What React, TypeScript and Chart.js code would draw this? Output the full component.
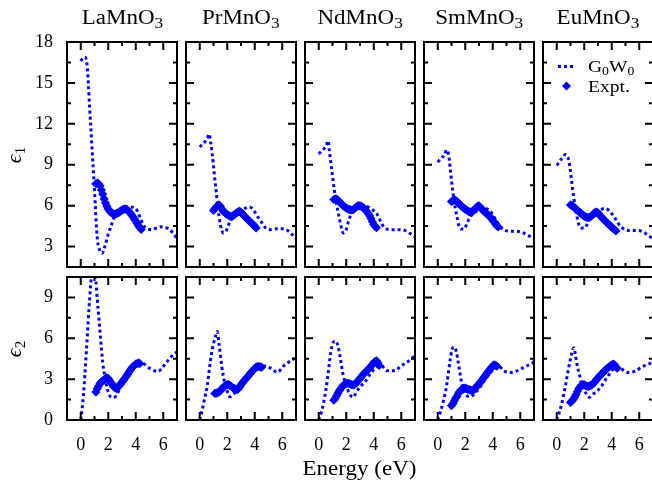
import React, { useEffect, useRef } from 'react';
import { Chart, registerables } from 'chart.js';
Chart.register(...registerables);

// ---------- labels ----------
const COMPOUNDS = ['La', 'Pr', 'Nd', 'Sm', 'Eu'];
const ROW_SUBSCRIPTS = ['1', '2'];
const X_LABELS = [0, 2, 4, 6];
const SERIES_NAMES = ['G0W0', 'Expt.'];

// ---------- experiment energy grid (eV) ----------
const EXPT_E = [1.0, 1.1, 1.2, 1.3, 1.4, 1.5, 1.6, 1.7, 1.8, 1.9,
  2.0, 2.1, 2.2, 2.3, 2.4, 2.5, 2.6, 2.7, 2.8, 2.9,
  3.0, 3.1, 3.2, 3.3, 3.4, 3.5, 3.6, 3.7, 3.8, 3.9,
  4.0, 4.1, 4.2, 4.3, 4.4, 4.5];

// ---------- epsilon_1 experiment ----------
const LA_E1_EXPT = [null, 7.6, 7.65, 7.6, 7.45, 7.15, 6.85, 6.5, 6.2, 5.95,
  5.75, 5.6, 5.5, 5.43, 5.38, 5.38, 5.42, 5.47, 5.52, 5.6,
  5.67, 5.72, 5.75, 5.74, 5.68, 5.58, 5.45, 5.32, 5.18, 5.02,
  4.87, 4.7, 4.52, 4.38, 4.25, null];
const PR_E1_EXPT = [5.65, 5.78, 5.9, 6.0, 6.05, 5.95, 5.75, 5.6, 5.5, 5.42,
  5.35, 5.28, 5.22, 5.2, 5.25, 5.32, 5.4, 5.48, 5.55, 5.58,
  5.52, 5.4, 5.3, 5.18, 5.07, 4.97, 4.88, 4.78, 4.68, 4.58,
  4.48, 4.36, null, null, null, null];
const ND_E1_EXPT = [null, 6.45, 6.5, 6.48, 6.4, 6.3, 6.18, 6.08, 5.98, 5.9,
  5.82, 5.77, 5.73, 5.7, 5.68, 5.7, 5.78, 5.88, 5.97, 6.0,
  5.98, 5.94, 5.9, 5.8, 5.68, 5.55, 5.42, 5.25, 5.05, 4.82,
  4.62, 4.48, 4.38, null, null, null];
const SM_E1_EXPT = [6.3, 6.36, 6.4, 6.38, 6.3, 6.2, 6.08, 5.98, 5.9, 5.82,
  5.75, 5.68, 5.6, 5.54, 5.52, 5.56, 5.64, 5.75, 5.86, 5.96,
  5.98, 5.88, 5.75, 5.65, 5.55, 5.45, 5.38, 5.3, 5.18, 5.05,
  4.92, 4.8, 4.66, 4.53, 4.44, null];
const EU_E1_EXPT = [6.05, 6.02, 5.95, 5.85, 5.75, 5.65, 5.57, 5.5, 5.4, 5.3,
  5.22, 5.17, 5.14, 5.13, 5.15, 5.22, 5.32, 5.42, 5.5, 5.53,
  5.48, 5.35, 5.22, 5.1, 5.0, 4.9, 4.8, 4.7, 4.6, 4.5,
  4.42, 4.33, 4.23, 4.15, null, null];

// ---------- epsilon_2 experiment ----------
const LA_E2_EXPT = [null, 2.05, 2.3, 2.5, 2.68, 2.8, 2.88, 2.95, 3.05, 3.1,
  3.05, 2.9, 2.75, 2.6, 2.45, 2.35, 2.32, 2.4, 2.52, 2.65,
  2.78, 2.92, 3.05, 3.2, 3.35, 3.5, 3.65, 3.8, 3.92, 4.02,
  4.1, 4.15, 4.18, 4.15, null, null];
const PR_E2_EXPT = [null, 1.95, 1.98, 2.0, 2.05, 2.15, 2.27, 2.38, 2.48, 2.55,
  2.6, 2.6, 2.52, 2.45, 2.38, 2.32, 2.25, 2.22, 2.28, 2.42,
  2.58, 2.72, 2.85, 2.97, 3.08, 3.2, 3.32, 3.45, 3.56, 3.68,
  3.8, 3.88, 3.93, 3.92, 3.9, 3.88];
const ND_E2_EXPT = [null, 1.45, 1.6, 1.78, 1.98, 2.15, 2.3, 2.45, 2.55, 2.62,
  2.68, 2.7, 2.68, 2.64, 2.6, 2.58, 2.6, 2.68, 2.8, 2.93,
  3.05, 3.18, 3.3, 3.42, 3.53, 3.63, 3.72, 3.82, 3.95, 4.08,
  4.2, 4.3, 4.35, 4.2, 4.0, null];
const SM_E2_EXPT = [1.05, 1.2, 1.4, 1.6, 1.75, 1.95, 2.1, 2.2, 2.3, 2.35,
  2.35, 2.3, 2.25, 2.22, 2.2, 2.18, 2.2, 2.3, 2.42, 2.55,
  2.65, 2.78, 2.92, 3.05, 3.18, 3.32, 3.46, 3.6, 3.72, 3.85,
  3.97, 4.05, 4.02, 3.95, null, null];
const EU_E2_EXPT = [1.3, 1.38, 1.5, 1.68, 1.88, 2.1, 2.3, 2.45, 2.55, 2.6,
  2.58, 2.52, 2.48, 2.47, 2.5, 2.55, 2.62, 2.72, 2.85, 2.98,
  3.1, 3.2, 3.3, 3.42, 3.53, 3.63, 3.73, 3.82, 3.9, 3.98,
  4.05, 4.1, 4.05, 3.9, 3.8, null];

// ---------- G0W0 epsilon_1 ----------
const LA_E1_GW_E = [0, 0.15, 0.3, 0.45, 0.55, 0.65, 0.75, 0.85, 0.95, 1.05, 1.15, 1.25, 1.4, 1.55, 1.75, 2.0, 2.2, 2.5, 2.8, 3.2, 3.6, 4.0, 4.2, 4.4, 4.6, 4.8, 5.2, 5.5, 5.8, 6.1, 6.4, 6.7, 7.0];
const LA_E1_GW = [16.6, 16.8, 16.9, 16.4, 15.0, 13.1, 11.4, 9.7, 8.0, 6.2, 4.3, 3.2, 2.7, 2.5, 3.0, 3.9, 4.5, 5.3, 5.7, 5.9, 5.9, 5.8, 5.4, 4.9, 4.5, 4.3, 4.25, 4.35, 4.45, 4.4, 4.3, 4.0, 3.6];
const PR_E1_GW_E = [0, 0.2, 0.4, 0.55, 0.68, 0.8, 0.9, 1.0, 1.1, 1.2, 1.3, 1.4, 1.5, 1.6, 1.7, 1.9, 2.1, 2.35, 2.6, 3.0, 3.3, 3.6, 3.9, 4.2, 4.45, 4.8, 5.1, 5.6, 6.1, 6.5, 6.8, 7.0];
const PR_E1_GW = [10.3, 10.5, 10.7, 10.9, 11.25, 10.6, 9.85, 8.9, 7.9, 7.0, 5.95, 5.2, 4.6, 4.2, 4.0, 4.1, 4.6, 5.1, 5.4, 5.6, 5.8, 5.9, 5.7, 5.2, 4.85, 4.36, 4.24, 4.3, 4.3, 4.1, 3.8, 3.6];
const ND_E1_GW_E = [0, 0.2, 0.36, 0.55, 0.68, 0.77, 0.89, 1.01, 1.13, 1.25, 1.37, 1.49, 1.61, 1.8, 2.0, 2.16, 2.4, 2.8, 3.2, 3.6, 3.9, 4.2, 4.44, 4.8, 5.28, 5.76, 6.24, 6.67, 7.0];
const ND_E1_GW = [9.8, 10.0, 10.15, 10.4, 10.76, 10.04, 9.07, 8.1, 7.14, 6.4, 5.7, 5.1, 4.53, 4.0, 4.24, 4.84, 5.45, 5.85, 6.0, 5.9, 5.7, 5.45, 4.96, 4.36, 4.24, 4.24, 4.19, 3.94, 3.7];
const SM_E1_GW_E = [0, 0.31, 0.5, 0.63, 0.8, 0.92, 1.04, 1.16, 1.28, 1.4, 1.52, 1.69, 1.93, 2.13, 2.37, 2.7, 3.0, 3.3, 3.6, 3.9, 4.2, 4.5, 4.78, 5.27, 5.75, 6.23, 6.67, 7.0];
const SM_E1_GW = [9.19, 9.55, 9.7, 10.09, 9.67, 8.59, 7.5, 6.53, 5.8, 5.2, 4.6, 4.29, 4.29, 4.72, 5.2, 5.5, 5.75, 5.8, 5.75, 5.5, 5.0, 4.5, 4.24, 4.12, 4.12, 4.0, 3.77, 3.6];
const EU_E1_GW_E = [0, 0.29, 0.45, 0.61, 0.85, 0.97, 1.09, 1.21, 1.33, 1.45, 1.57, 1.77, 2.01, 2.25, 2.42, 2.8, 3.2, 3.5, 3.87, 4.23, 4.59, 4.96, 5.43, 5.92, 6.33, 6.65, 7.0];
const EU_E1_GW = [8.95, 9.36, 9.5, 9.75, 9.43, 8.71, 7.74, 6.78, 6.0, 5.33, 4.72, 4.36, 4.36, 4.72, 5.2, 5.5, 5.7, 5.81, 5.57, 5.09, 4.53, 4.24, 4.17, 4.17, 4.05, 3.8, 3.6];

// ---------- G0W0 epsilon_2 ----------
const LA_E2_GW_E = [0, 0.1, 0.2, 0.3, 0.4, 0.5, 0.6, 0.7, 0.8, 0.9, 1.0, 1.1, 1.2, 1.3, 1.4, 1.5, 1.6, 1.75, 1.9, 2.1, 2.3, 2.5, 2.7, 2.9, 3.2, 3.5, 3.8, 4.1, 4.4, 4.7, 5.0, 5.3, 5.6, 5.9, 6.2, 6.5, 6.8, 7.0];
const LA_E2_GW = [0.0, 0.8, 1.9, 3.3, 4.9, 6.55, 8.2, 9.6, 10.8, 11.2, 11.0, 10.2, 8.9, 7.7, 6.5, 5.3, 4.2, 3.2, 2.4, 1.8, 1.65, 1.7, 2.0, 2.5, 2.95, 3.4, 3.85, 4.15, 4.2, 4.05, 3.8, 3.65, 3.55, 3.8, 4.2, 4.55, 4.85, 5.0];
const PR_E2_GW_E = [0, 0.15, 0.35, 0.55, 0.7, 0.85, 1.0, 1.15, 1.27, 1.4, 1.5, 1.6, 1.7, 1.85, 2.0, 2.2, 2.45, 2.8, 3.2, 3.6, 4.0, 4.4, 4.7, 5.2, 5.65, 6.1, 6.6, 7.0];
const PR_E2_GW = [0.0, 0.6, 1.55, 2.55, 3.75, 4.85, 5.6, 6.15, 6.5, 5.6, 4.8, 3.95, 3.3, 2.55, 2.1, 1.7, 1.9, 2.4, 3.0, 3.4, 3.74, 3.95, 3.97, 3.78, 3.5, 3.97, 4.34, 4.6];
const ND_E2_GW_E = [0, 0.19, 0.36, 0.51, 0.63, 0.75, 0.87, 1.04, 1.23, 1.4, 1.52, 1.64, 1.76, 2.0, 2.24, 2.49, 2.73, 2.97, 3.33, 3.82, 4.18, 4.54, 5.0, 5.5, 5.98, 6.46, 6.82, 7.0];
const ND_E2_GW = [0.0, 0.58, 1.3, 2.16, 3.0, 3.98, 4.95, 5.67, 5.8, 5.43, 4.83, 4.1, 3.37, 2.52, 1.92, 1.67, 2.03, 2.4, 2.76, 3.49, 3.85, 3.98, 3.61, 3.61, 3.97, 4.27, 4.58, 4.7];
const SM_E2_GW_E = [0, 0.19, 0.36, 0.53, 0.68, 0.79, 0.91, 1.04, 1.2, 1.37, 1.49, 1.61, 1.73, 1.87, 2.1, 2.35, 2.6, 2.9, 3.2, 3.5, 3.8, 4.1, 4.44, 4.8, 5.28, 5.76, 6.24, 6.72, 7.0];
const SM_E2_GW = [0.0, 0.58, 1.19, 1.92, 2.76, 3.61, 4.46, 5.19, 5.36, 4.95, 4.22, 3.49, 2.76, 2.16, 1.8, 1.7, 1.85, 2.2, 2.6, 3.05, 3.45, 3.75, 3.95, 3.61, 3.49, 3.61, 3.85, 4.1, 4.25];
const EU_E2_GW_E = [0, 0.19, 0.36, 0.51, 0.68, 0.82, 0.97, 1.11, 1.23, 1.35, 1.47, 1.64, 1.81, 2.08, 2.36, 2.66, 2.97, 3.28, 3.57, 3.82, 4.06, 4.3, 4.7, 5.14, 5.75, 6.11, 6.47, 6.83, 7.0];
const EU_E2_GW = [0.0, 0.58, 1.19, 1.92, 2.76, 3.61, 4.34, 4.95, 5.31, 4.83, 4.1, 3.37, 2.64, 2.03, 1.67, 1.92, 2.16, 2.52, 3.0, 3.37, 3.7, 3.9, 3.75, 3.49, 3.61, 3.85, 4.03, 4.17, 4.25];

// ---------- assembly ----------
const GW_E = [
  [LA_E1_GW_E, PR_E1_GW_E, ND_E1_GW_E, SM_E1_GW_E, EU_E1_GW_E],
  [LA_E2_GW_E, PR_E2_GW_E, ND_E2_GW_E, SM_E2_GW_E, EU_E2_GW_E],
];
const GW_V = [
  [LA_E1_GW, PR_E1_GW, ND_E1_GW, SM_E1_GW, EU_E1_GW],
  [LA_E2_GW, PR_E2_GW, ND_E2_GW, SM_E2_GW, EU_E2_GW],
];
const EXPT_V = [
  [LA_E1_EXPT, PR_E1_EXPT, ND_E1_EXPT, SM_E1_EXPT, EU_E1_EXPT],
  [LA_E2_EXPT, PR_E2_EXPT, ND_E2_EXPT, SM_E2_EXPT, EU_E2_EXPT],
];
const Y_RANGE = [[1.5, 18], [0, 10.5]];
const X_RANGE = [-1, 7];

// ---------- layout ----------
const COL_LEFT = [67, 186, 305, 424, 543];
const PLOT_W = 110;
const ROW_TOP = [42, 277];
const ROW_H = [225, 143];
const PAD_L = 60, PAD_R = 12, PAD_T = 12, PAD_B = 40;
const BLUE = '#0000ff';
const SERIF = "'Liberation Serif', 'Times New Roman', serif";

const isMult = (v: number, m: number) => Math.abs(v / m - Math.round(v / m)) < 1e-6;

const zeroPad = (s: any) => {
  s.paddingTop = 0; s.paddingBottom = 0; s.paddingLeft = 0; s.paddingRight = 0;
};

const frameTicks = {
  id: 'frameTicks',
  afterDraw(chart: any, _args: any, opts: any) {
    const { ctx, chartArea: a, scales } = chart;
    ctx.save();
    ctx.strokeStyle = '#000';
    ctx.lineWidth = 2;
    ctx.beginPath();
    for (const t of scales.x.ticks) {
      const px = scales.x.getPixelForValue(t.value);
      const L = isMult(t.value, 2) ? 8 : 4;
      ctx.moveTo(px, a.bottom); ctx.lineTo(px, a.bottom - L);
      ctx.moveTo(px, a.top); ctx.lineTo(px, a.top + L);
    }
    for (const t of scales.y.ticks) {
      const py = scales.y.getPixelForValue(t.value);
      const L = isMult(t.value, 3) ? 8 : 4;
      ctx.moveTo(a.left, py); ctx.lineTo(a.left + L, py);
      ctx.moveTo(a.right, py); ctx.lineTo(a.right - L, py);
    }
    ctx.stroke();
    ctx.strokeRect(a.left, a.top, a.right - a.left, a.bottom - a.top);
    if (opts && opts.legend) {
      ctx.strokeStyle = BLUE;
      ctx.lineWidth = 3;
      ctx.setLineDash([3, 3]);
      ctx.beginPath();
      ctx.moveTo(a.left + 15, a.top + 24.5);
      ctx.lineTo(a.left + 31, a.top + 24.5);
      ctx.stroke();
      ctx.setLineDash([]);
      ctx.fillStyle = BLUE;
      const cx = a.left + 23.5, cy = a.top + 44, r = 4.5;
      ctx.beginPath();
      ctx.moveTo(cx, cy - r); ctx.lineTo(cx + r, cy); ctx.lineTo(cx, cy + r); ctx.lineTo(cx - r, cy);
      ctx.closePath();
      ctx.fill();
    }
    ctx.restore();
  },
};

function Panel({ row, col }: { row: number; col: number }) {
  const ref = useRef<HTMLCanvasElement>(null);
  const W = PAD_L + PLOT_W + PAD_R;
  const H = PAD_T + ROW_H[row] + PAD_B;
  useEffect(() => {
    const gwE = GW_E[row][col];
    const gwV = GW_V[row][col];
    const ex = EXPT_V[row][col];
    const exptPts = EXPT_E.map((e, i) => ({ x: e, y: ex[i] })).filter((p) => p.y !== null);
    const gwPts = gwE.map((e, i) => ({ x: e, y: gwV[i] }));
    const tickFont = { family: SERIF, size: 18 };
    const chart = new Chart(ref.current as HTMLCanvasElement, {
      type: 'scatter',
      data: {
        datasets: [
          {
            label: SERIES_NAMES[1],
            data: exptPts as any,
            showLine: false,
            pointStyle: 'rectRot',
            pointRadius: 4.6,
            pointBackgroundColor: BLUE,
            pointBorderWidth: 0,
            borderColor: BLUE,
            backgroundColor: BLUE,
          },
          {
            label: SERIES_NAMES[0],
            data: gwPts as any,
            showLine: true,
            borderColor: BLUE,
            borderWidth: 3,
            borderDash: [3, 3],
            pointRadius: 0,
            fill: false,
            cubicInterpolationMode: 'monotone',
          } as any,
        ],
      },
      options: {
        responsive: false,
        animation: false,
        events: [],
        layout: { padding: { left: 0, right: PAD_R, top: PAD_T, bottom: 0 }, autoPadding: false } as any,
        plugins: {
          legend: { display: false },
          tooltip: { enabled: false },
          frameTicks: { legend: row === 0 && col === 4 },
        } as any,
        scales: {
          x: {
            type: 'linear',
            position: 'bottom',
            min: X_RANGE[0],
            max: X_RANGE[1],
            afterFit: (s: any) => { s.height = PAD_B; zeroPad(s); },
            grid: { display: false, drawTicks: false },
            border: { display: false },
            ticks: {
              display: row === 1,
              stepSize: 1,
              autoSkip: false,
              maxRotation: 0,
              padding: 14,
              color: '#000',
              font: tickFont,
              callback: (v: any) => (X_LABELS.includes(Number(v)) ? String(v) : ''),
            },
          },
          y: {
            type: 'linear',
            position: 'left',
            min: Y_RANGE[row][0],
            max: Y_RANGE[row][1],
            afterFit: (s: any) => { s.width = PAD_L; zeroPad(s); },
            grid: { display: false, drawTicks: false },
            border: { display: false },
            ticks: {
              display: col === 0,
              stepSize: 1.5,
              autoSkip: false,
              padding: 14,
              color: '#000',
              font: tickFont,
              callback: (v: any) => (isMult(Number(v), 3) ? String(Math.round(Number(v))) : ''),
            },
          },
        },
      } as any,
      plugins: [frameTicks as any],
    });
    return () => chart.destroy();
  }, [row, col]);
  return (
    <canvas
      ref={ref}
      width={W}
      height={H}
      style={{ position: 'absolute', left: COL_LEFT[col] - PAD_L, top: ROW_TOP[row] - PAD_T, width: W, height: H }}
    />
  );
}

const subStyle = (size: number, drop: number): React.CSSProperties => ({ fontSize: size, position: 'relative', top: drop });

export default function App() {
  return (
    <div style={{ position: 'absolute', left: 0, top: 0, width: 652, height: 485, overflow: 'hidden', background: '#fff' }}>
      {[0, 1].map((r) => COMPOUNDS.map((_, c) => <Panel key={`${r}-${c}`} row={r} col={c} />))}
      {COMPOUNDS.map((c, i) => (
        <div key={c} style={{ position: 'absolute', left: COL_LEFT[i] - 30, width: PLOT_W + 60, top: 6.5, textAlign: 'center', font: `20px/20px ${SERIF}`, color: '#000', whiteSpace: 'nowrap' }}>
          <span style={{ display: 'inline-block', transform: 'scaleX(1.15)' }}>
            {c}MnO<span style={subStyle(15, 4)}>3</span>
          </span>
        </div>
      ))}
      {ROW_SUBSCRIPTS.map((s, r) => (
        <div key={s} style={{ position: 'absolute', left: 15, top: ROW_TOP[r] + ROW_H[r] / 2, transform: 'translate(-50%, -50%) rotate(-90deg)', font: `22px/22px ${SERIF}`, color: '#000', whiteSpace: 'nowrap' }}>
          <i>ϵ</i><span style={subStyle(15, 4)}>{s}</span>
        </div>
      ))}
      <div style={{ position: 'absolute', left: 260, width: 200, top: 458, textAlign: 'center', font: `20px/20px ${SERIF}`, color: '#000', whiteSpace: 'nowrap' }}>
        <span style={{ display: 'inline-block', transform: 'scaleX(1.15)' }}>Energy (eV)</span>
      </div>
      <div style={{ position: 'absolute', left: 588, top: 58.3, font: `17px/17px ${SERIF}`, color: '#000', whiteSpace: 'nowrap', transform: 'scaleX(1.15)', transformOrigin: 'left' }}>
        G<span style={subStyle(12, 3)}>0</span>W<span style={subStyle(12, 3)}>0</span>
      </div>
      <div style={{ position: 'absolute', left: 588, top: 77.8, font: `17px/17px ${SERIF}`, color: '#000', whiteSpace: 'nowrap', transform: 'scaleX(1.15)', transformOrigin: 'left' }}>
        {SERIES_NAMES[1]}
      </div>
    </div>
  );
}
